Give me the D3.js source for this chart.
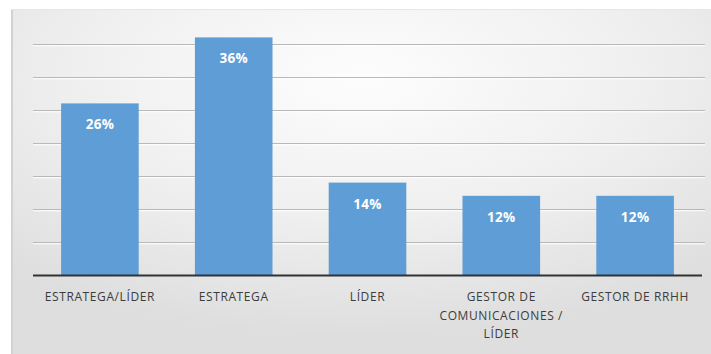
<!DOCTYPE html>
<html>
<head>
<meta charset="utf-8">
<script src="https://cdn.jsdelivr.net/npm/d3@7"></script>
<style>
  html, body { margin: 0; padding: 0; background: #fff; }
  svg { display: block; }
</style>
</head>
<body>
<svg id="vis" width="711" height="354"></svg>
<script>
// data
const categories = ["ESTRATEGA/LÍDER", "ESTRATEGA", "LÍDER", "GESTOR DE COMUNICACIONES / LÍDER", "GESTOR DE RRHH"];
const catLines = [["ESTRATEGA/LÍDER"], ["ESTRATEGA"], ["LÍDER"], ["GESTOR DE", "COMUNICACIONES /", "LÍDER"], ["GESTOR DE RRHH"]];
const values = [26, 36, 14, 12, 12];
const gridTicks = [5, 10, 15, 20, 25, 30, 35, 40];

var svg = d3.select("svg#vis");

var attr = {
  left: 33,
  right: 702,
  top: 11,
  bottom: 275
};

// background panel with soft gradient
var defs = svg.append("defs");
var grad = defs.append("radialGradient")
  .attr("id", "bg")
  .attr("cx", "50%").attr("cy", "20%").attr("r", "75%");
grad.append("stop").attr("offset", "0%").attr("stop-color", "#fdfdfd");
grad.append("stop").attr("offset", "55%").attr("stop-color", "#efefef");
grad.append("stop").attr("offset", "100%").attr("stop-color", "#dedede");

svg.append("rect")
  .attr("x", 11).attr("y", 9)
  .attr("width", 711 - 11).attr("height", 354 - 9)
  .style("fill", "url(#bg)");
svg.append("line")
  .attr("x1", 12).attr("x2", 12).attr("y1", 9).attr("y2", 354)
  .style("stroke", "#d2d2d2").style("stroke-width", 2);
svg.append("line")
  .attr("x1", 11).attr("x2", 711).attr("y1", 9.5).attr("y2", 9.5)
  .style("stroke", "#e6e6e6").style("stroke-width", 1);

var x = d3.scaleBand()
  .domain(categories)
  .range([attr.left, attr.right])
  .paddingInner(0.42)
  .paddingOuter(0.21);

var y = d3.scaleLinear()
  .domain([0, 40])
  .range([attr.bottom, attr.top]);

// gridlines (embossed look)
var grid = svg.append("g").attr("class", "grid");
grid.selectAll("line.dark")
  .data(gridTicks.slice(0, -1))
  .enter().append("line")
  .attr("x1", attr.left).attr("x2", attr.right + 3)
  .attr("y1", d => Math.round(y(d)) + 0.5)
  .attr("y2", d => Math.round(y(d)) + 0.5)
  .style("stroke", "#b9b9b9").style("stroke-width", 1.2);
grid.selectAll("line.light")
  .data(gridTicks.slice(0, -1))
  .enter().append("line")
  .attr("x1", attr.left).attr("x2", attr.right + 3)
  .attr("y1", d => Math.round(y(d)) + 1.8)
  .attr("y2", d => Math.round(y(d)) + 1.8)
  .style("stroke", "#ffffff").style("stroke-width", 1);

// bars
svg.append("g").selectAll("rect")
  .data(values)
  .enter().append("rect")
  .attr("x", (d, i) => x(categories[i]))
  .attr("y", d => y(d))
  .attr("width", x.bandwidth())
  .attr("height", d => attr.bottom - y(d))
  .style("fill", "#5e9dd5");

// value labels
svg.append("g").selectAll("text")
  .data(values)
  .enter().append("text")
  .attr("x", (d, i) => x(categories[i]) + x.bandwidth() / 2)
  .attr("y", d => y(d) + 26)
  .attr("text-anchor", "middle")
  .style("font-family", "'Open Sans', sans-serif")
  .style("font-weight", "bold")
  .style("font-size", "13.5px")
  .style("letter-spacing", "0.3px")
  .style("fill", "#ffffff")
  .text(d => d + "%");

// baseline
svg.append("line")
  .attr("x1", attr.left).attr("x2", attr.right)
  .attr("y1", attr.bottom + 0.5).attr("y2", attr.bottom + 0.5)
  .style("stroke", "#2f3236").style("stroke-width", 2.2);

// category labels
var labels = svg.append("g").selectAll("text")
  .data(categories)
  .enter().append("text")
  .attr("x", d => x(d) + x.bandwidth() / 2)
  .attr("y", 301)
  .attr("text-anchor", "middle")
  .style("font-family", "'Open Sans', sans-serif")
  .style("font-size", "12px")
  .style("letter-spacing", "0.6px")
  .style("fill", "#3c3c3c");

labels.each(function(d, i) {
  var t = d3.select(this);
  catLines[i].forEach(function(line, j) {
    t.append("tspan")
      .attr("x", x(d) + x.bandwidth() / 2)
      .attr("dy", j === 0 ? 0 : 18.5)
      .text(line);
  });
});
</script>
</body>
</html>
